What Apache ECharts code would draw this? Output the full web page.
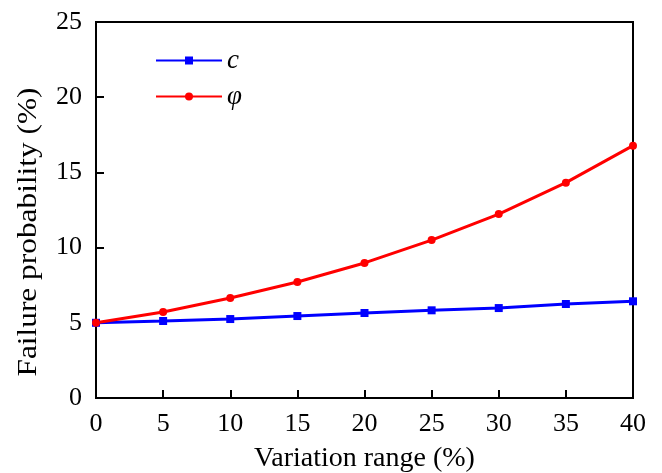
<!DOCTYPE html>
<html><head><meta charset="utf-8">
<script src="https://cdn.jsdelivr.net/npm/echarts@6/dist/echarts.min.js"></script>
<style>html,body{margin:0;padding:0;background:#fff}#c{width:662px;height:473px}</style>
</head><body><div id="c"></div>
<script>
const categories = [0, 5, 10, 15, 20, 25, 30, 35, 40];
const cValues = [5.0, 5.12, 5.25, 5.45, 5.65, 5.83, 5.98, 6.25, 6.43];
const phiValues = [5.0, 5.72, 6.65, 7.71, 8.98, 10.5, 12.23, 14.32, 16.78];
const seriesNames = ['c', 'φ'];
const xTitle = 'Variation range (%)';
const yTitle = 'Failure probability (%)';

const chart = echarts.init(document.getElementById('c'));
const font = 'Liberation Serif, Times New Roman, serif';
chart.setOption({
  animation: false,
  backgroundColor: '#fff',
  grid: { left: 96, right: 29, top: 22, bottom: 75, show: true, borderColor: '#000', borderWidth: 2,
    backgroundColor: 'transparent', containLabel: false, outerBoundsMode: 'none' },
  legend: {
    orient: 'vertical', left: 150, top: 42, itemWidth: 66, itemHeight: 10, itemGap: 9,
    textStyle: { fontFamily: font, fontStyle: 'italic', fontSize: 27, color: '#000' },
    data: seriesNames
  },
  graphic: [{
    type: 'text', x: 29, y: 232, rotation: Math.PI / 2, scaleX: 1.12,
    style: { text: yTitle, fontFamily: font, fontSize: 28, fill: '#000', align: 'center', verticalAlign: 'middle' }
  }],
  xAxis: {
    type: 'value', min: 0, max: 40, interval: 5,
    name: xTitle, nameLocation: 'middle', nameGap: 47,
    nameTextStyle: { fontFamily: font, fontSize: 28, color: '#000' },
    axisLine: { show: true, lineStyle: { color: '#000', width: 2 } },
    axisTick: { show: true, inside: true, length: 8, lineStyle: { color: '#000', width: 2 } },
    axisLabel: { fontFamily: font, fontSize: 26, color: '#000', margin: 13 },
    splitLine: { show: false }
  },
  yAxis: {
    type: 'value', min: 0, max: 25, interval: 5,
    axisLine: { show: true, lineStyle: { color: '#000', width: 2 } },
    axisTick: { show: true, inside: true, length: 8, lineStyle: { color: '#000', width: 2 } },
    axisLabel: { fontFamily: font, fontSize: 26, color: '#000', margin: 14 },
    splitLine: { show: false }
  },
  series: [
    { name: seriesNames[0], type: 'line', data: categories.map((x, i) => [x, cValues[i]]),
      symbol: 'rect', symbolSize: 8, lineStyle: { color: '#0000ff', width: 3 }, itemStyle: { color: '#0000ff' } },
    { name: seriesNames[1], type: 'line', data: categories.map((x, i) => [x, phiValues[i]]),
      symbol: 'circle', symbolSize: 8, lineStyle: { color: '#ff0000', width: 3 }, itemStyle: { color: '#ff0000' } }
  ]
});
</script></body></html>
